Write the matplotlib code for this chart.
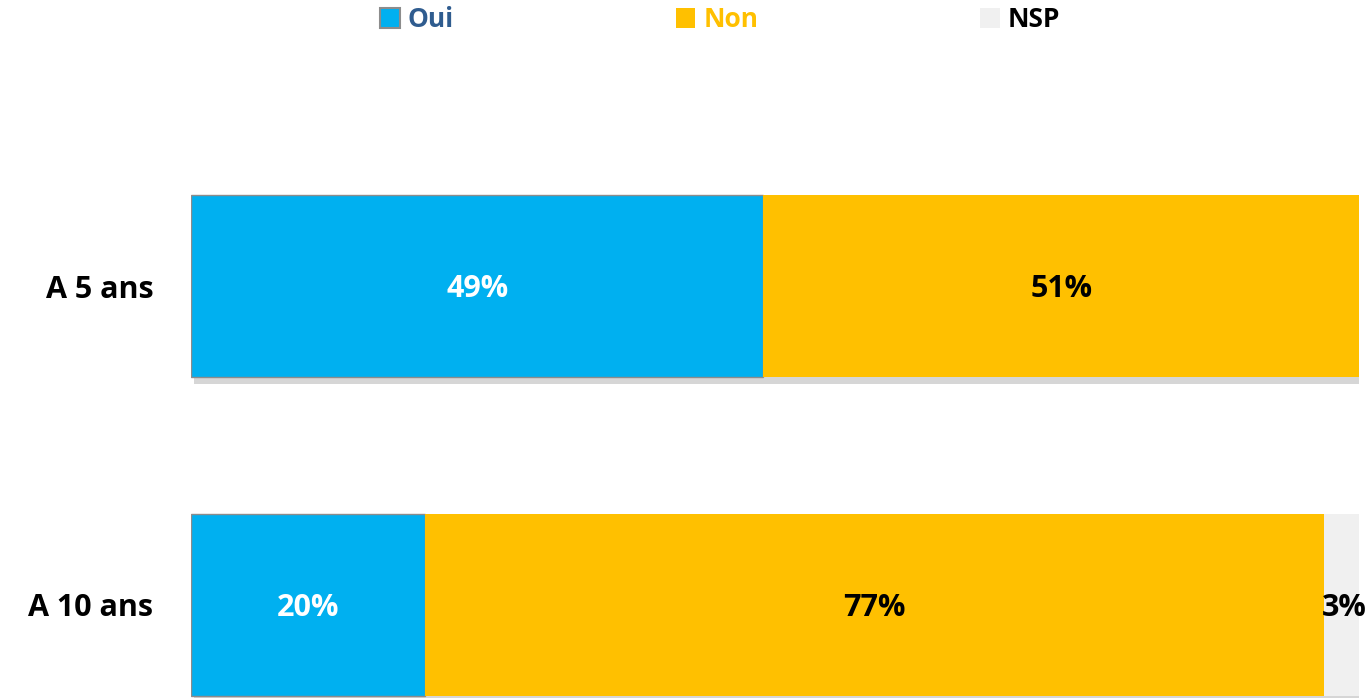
import matplotlib.pyplot as plt
import matplotlib.patheffects as pe
import numpy as np

plt.rcParams['font.family'] = ['Open Sans', 'DejaVu Sans']

# Data
categories = ["A 5 ans", "A 10 ans"]
series = ["Oui", "Non", "NSP"]
oui = [49, 20]
non = [51, 77]
nsp = [0, 3]

colors = ["#00B0F0", "#FFC000", "#F0F0F0"]
label_colors = ["white", "black", "black"]
legend_text_colors = ["#2F5C8F", "#FFC000", "black"]

fig = plt.figure(figsize=(13.69, 6.98), dpi=100)
ax = fig.add_axes([191 / 1369, 0, 1168 / 1369, 638 / 698])

y = np.arange(len(categories))
shadow = [pe.SimplePatchShadow(offset=(2, -5), shadow_rgbFace="#9a9a9a", alpha=0.4), pe.Normal()]

left = np.zeros(len(categories))
for name, vals, col, tcol in zip(series, [oui, non, nsp], colors, label_colors):
    vals = np.array(vals)
    ec = "#8c8c8c" if name == "Oui" else col
    bars = ax.barh(y, vals, left=left, height=0.57, color=col, edgecolor=ec,
                   linewidth=1 if name == "Oui" else 0)
    for b in bars:
        b.set_path_effects(shadow)
    for yi, v, l in zip(y, vals, left):
        if v > 0:
            ax.text(l + v / 2 if v > 5 else l + v / 2 + 0.2, yi + 0.01, f"{v}%", ha="center", va="center",
                    fontsize=22, fontweight="bold", color=tcol)
    left = left + vals

ax.set_xlim(0, 100)
ax.set_ylim((698 - 286) / 319, (60 - 286) / 319)
ax.set_yticks(y)
ax.set_yticklabels(categories, fontsize=22, fontweight="bold")
ax.tick_params(axis="y", length=0, pad=27)
ax.set_xticks([])
for s in ax.spines.values():
    s.set_visible(False)

# legend
handles = [plt.Rectangle((0, 0), 1, 1, facecolor=colors[0], edgecolor="#8c8c8c", linewidth=1.5),
           plt.Rectangle((0, 0), 1, 1, facecolor=colors[1], linewidth=0),
           plt.Rectangle((0, 0), 1, 1, facecolor=colors[2], linewidth=0)]
leg = fig.legend(handles, series, loc="upper center", bbox_to_anchor=(0.526, 1.025), ncol=3,
                 frameon=False, columnspacing=8.4, handlelength=0.75, handleheight=0.75,
                 handletextpad=0.3, prop={"size": 19, "weight": "bold"})
for t, c in zip(leg.get_texts(), legend_text_colors):
    t.set_color(c)

fig.savefig("out.png", dpi=100)
